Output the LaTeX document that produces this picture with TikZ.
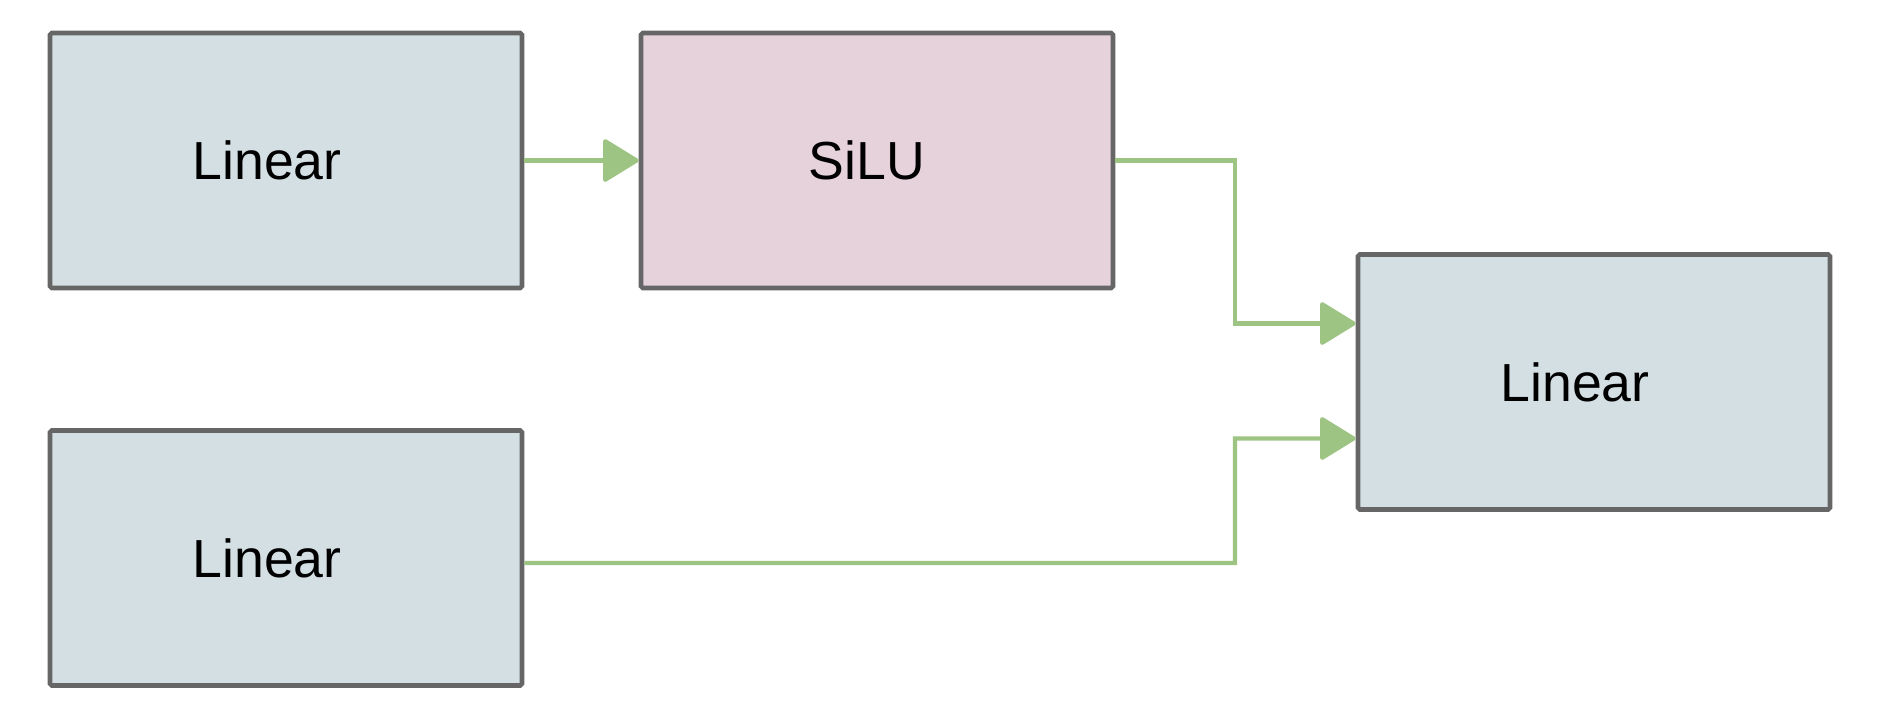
\documentclass[tikz,border=0pt]{standalone}
\usepackage{fontspec}
\setmainfont{Liberation Sans}
\usetikzlibrary{positioning,arrows.meta}

\tikzset{
  layer/.style={shape=rectangle,draw=boxgray,line width=2.6pt,rounded corners=1pt,
    minimum width=9.44cm,minimum height=5.1cm,font=\fontsize{30.5}{34}\selectfont},
  linbox/.style={layer,fill=linfill},
  actbox/.style={layer,fill=actfill},
  link/.style={draw=linkgreen,line width=2.3pt,
    -{Triangle[length=0.75cm,width=0.9cm,round]}}
}
\definecolor{boxgray}{HTML}{666666}
\definecolor{linfill}{HTML}{D4DFE3}
\definecolor{actfill}{HTML}{E6D2DB}
\definecolor{linkgreen}{HTML}{9DC483}

\begin{document}
\begin{tikzpicture}
  \useasboundingbox (0,0) rectangle (37.6,14.4);
  \node[linbox] (lin1) at (5.72,11.19) {Linear\hspace*{0.76cm}};
  \node[actbox] (silu) at (17.54,11.19) {SiLU\hspace*{0.4cm}};
  \node[linbox] (lin2) at (5.72,3.24) {Linear\hspace*{0.76cm}};
  \node[linbox] (out) at (31.88,6.76) {Linear\hspace*{0.76cm}};
  \coordinate (j1) at (24.7,11.19);
  \coordinate (j2) at (24.7,3.14);
  \path [link](lin1) -- (silu);
  \path [link](silu.east) -- (j1) |- ([yshift=1.17cm]out.west);
  \path [link]([yshift=-0.1cm]lin2.east) -- (j2) |- ([yshift=-1.13cm]out.west);
\end{tikzpicture}
\end{document}
